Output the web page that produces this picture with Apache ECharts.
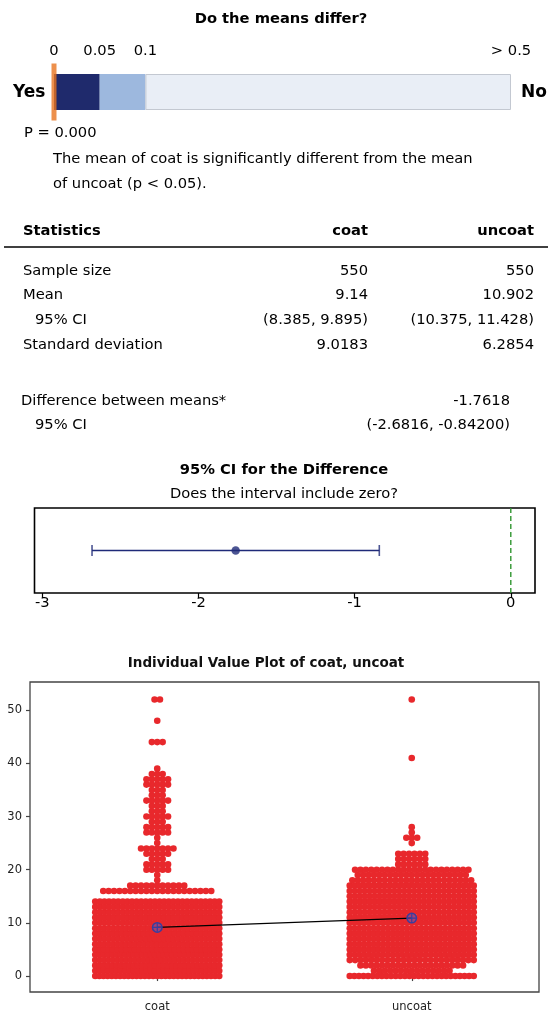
<!DOCTYPE html>
<html>
<head>
<meta charset="utf-8">
<title>2-Sample t-Test for the Mean: coat vs uncoat</title>
<script src="https://cdn.jsdelivr.net/npm/echarts@6/dist/echarts.min.js"></script>
<style>
  html, body { margin: 0; padding: 0; background: #fff; }
  #report { width: 548px; height: 1013px; }
</style>
</head>
<body>
<div id="report"></div>
<script>
// ---- summary statistics ----
const groups = ['coat', 'uncoat'];
const sampleSizes = [550, 550];
const means = [9.14, 10.902];
const meanCILower = [8.385, 10.375];
const meanCIUpper = [9.895, 11.428];
const stdDevs = [9.0183, 6.2854];
const diffMean = -1.7618;
const diffCI = [-2.6816, -0.842];
const diffCIDecimals = [4, 5];
const pValue = 0.000;

// ---- p-value scale ----
const pTicks = [0, 0.05, 0.1, 0.5];
const pTickLabels = ['0', '0.05', '0.1', '> 0.5'];
const pBands = [0.05, 0.05, 0.4];

// ---- CI plot axis ----
const ciTicks = [-3, -2, -1, 0];

// ---- individual values: value level and number of observations ----
const ivpTicks = [0, 10, 20, 30, 40, 50];
const coatLevels = [0, 1, 2, 3, 4, 5, 6, 7, 8, 9, 10, 11, 12, 13, 14, 16, 17, 18, 19, 20, 21, 22, 23, 24, 25, 26, 27, 28, 29, 30, 31, 32, 33, 34, 35, 36, 37, 38, 39, 44, 48, 52];
const coatCounts = [31, 30, 30, 29, 30, 29, 29, 28, 29, 29, 28, 28, 28, 28, 28, 21, 11, 1, 1, 5, 5, 3, 5, 7, 1, 1, 5, 5, 3, 5, 3, 3, 5, 3, 3, 5, 5, 3, 1, 3, 1, 2];
const uncoatLevels = [0, 1, 2, 3, 4, 5, 6, 7, 8, 9, 10, 11, 12, 13, 14, 15, 16, 17, 18, 19, 20, 21, 22, 23, 25, 26, 27, 28, 41, 52];
const uncoatCounts = [28, 15, 20, 24, 27, 27, 27, 27, 27, 27, 27, 26, 26, 26, 26, 26, 26, 26, 23, 21, 22, 6, 6, 6, 1, 3, 1, 1, 1, 1];

// ---- layout ----
const FONT = '"DejaVu Sans", Verdana, sans-serif';
const ivpGrid = { left: 30, right: 9, top: 682, bottom: 21 };
const ivpXRange = [0.5, 2.5];
const dotSize = 6.6;
const dotStep = 5.4;      // natural spacing between neighbouring dots (px)
const dotBand = 124;      // widest spread of dot centres in a row (px)

const chart = echarts.init(document.getElementById('report'), null, { renderer: 'canvas' });

// lay out the dots of each level side by side, centred on the group
function dotRows(levels, counts, groupPos) {
  const plotWidth = 548 - ivpGrid.left - ivpGrid.right;
  const pxPerUnit = plotWidth / (ivpXRange[1] - ivpXRange[0]);
  const pts = [];
  levels.forEach((v, k) => {
    const n = counts[k];
    const step = n > 1 ? Math.min(dotStep, dotBand / (n - 1)) : 0;
    for (let i = 0; i < n; i++) {
      const off = (i - (n - 1) / 2) * step;
      pts.push([groupPos + off / pxPerUnit, v]);
    }
  });
  return pts;
}
const coatDots = dotRows(coatLevels, coatCounts, 1);
const uncoatDots = dotRows(uncoatLevels, uncoatCounts, 2);

// ---- text blocks ----
function txt(text, x, y, opts) {
  opts = opts || {};
  const align = opts.align || 'left';
  return {
    type: 'text', x: x, y: y, silent: true,
    style: {
      text: text,
      font: (opts.bold ? 'bold ' : '') + (opts.size || 14.7) + 'px ' + FONT,
      fill: opts.color || '#000',
      textAlign: align, align: align,
      textVerticalAlign: 'middle', verticalAlign: 'middle'
    }
  };
}
const fmtCI = (lo, hi) => '(' + lo + ', ' + hi + ')';

const colRight = [368, 534];
const rowY = [271, 295.5, 320, 345];
const rowLabels = ['Sample size', 'Mean', '95% CI', 'Standard deviation'];
const rowIndent = [23, 23, 35, 23];
const rowValues = [
  sampleSizes.map(String),
  means.map(String),
  groups.map((g, i) => fmtCI(meanCILower[i], meanCIUpper[i])),
  stdDevs.map(String)
];

const graphics = [
  txt('Do the means differ?', 281, 19, { bold: true, align: 'center' }),
  txt('Yes', 13, 92.5, { bold: true, size: 17 }),
  txt('No', 521, 92.5, { bold: true, size: 17 }),
  txt('P = ' + pValue.toFixed(3), 24, 133),
  txt('The mean of coat is significantly different from the mean', 53, 159),
  txt('of uncoat (p < 0.05).', 53, 184),
  txt('Statistics', 23, 231, { bold: true }),
  txt(groups[0], colRight[0], 231, { bold: true, align: 'right' }),
  txt(groups[1], colRight[1], 231, { bold: true, align: 'right' }),
  { type: 'line', silent: true, shape: { x1: 4, y1: 247, x2: 548, y2: 247 }, style: { stroke: '#000', lineWidth: 1.5 } },
  txt('Difference between means*', 21, 401.5),
  txt(String(diffMean), 510, 401.5, { align: 'right' }),
  txt('95% CI', 35, 425.5),
  txt(fmtCI(diffCI[0].toFixed(diffCIDecimals[0]), diffCI[1].toFixed(diffCIDecimals[1])), 510, 425.5, { align: 'right' }),
  txt('95% CI for the Difference', 284, 470, { bold: true, align: 'center' }),
  txt('Does the interval include zero?', 284, 494, { align: 'center' }),
  txt('Individual Value Plot of coat, uncoat', 266, 663, { bold: true, size: 13.5, align: 'center', color: '#111' })
];
rowLabels.forEach((lab, r) => {
  graphics.push(txt(lab, rowIndent[r], rowY[r]));
  rowValues[r].forEach((val, c) => graphics.push(txt(val, colRight[c], rowY[r], { align: 'right' })));
});

const bandColors = ['#1f2a6c', '#9db8de', '#e9eef6'];
const navy = '#1f2a78';

const option = {
  animation: false,
  backgroundColor: '#fff',
  textStyle: { fontFamily: FONT },
  graphic: { elements: graphics },
  grid: [
    { left: 54, width: 457, top: 74, height: 36, containLabel: false, outerBoundsMode: 'none' },
    { left: 34.5, right: 13, top: 508, height: 85, containLabel: false, outerBoundsMode: 'none',
      show: true, borderColor: '#000', borderWidth: 1.6, backgroundColor: 'transparent' },
    { left: ivpGrid.left, right: ivpGrid.right, top: ivpGrid.top, bottom: ivpGrid.bottom, containLabel: false, outerBoundsMode: 'none',
      show: true, borderColor: '#444', borderWidth: 1.3, backgroundColor: 'transparent' }
  ],
  xAxis: [
    { gridIndex: 0, type: 'value', position: 'top', min: pTicks[0], max: pTicks[pTicks.length - 1],
      axisLine: { show: false }, axisTick: { show: false }, splitLine: { show: false },
      axisLabel: { customValues: pTicks, margin: 15, fontSize: 14.7, color: '#000', fontFamily: FONT,
        formatter: v => pTickLabels[pTicks.indexOf(v)] } },
    { gridIndex: 1, type: 'value', min: -3.05, max: 0.155,
      axisLine: { show: false }, splitLine: { show: false },
      axisTick: { customValues: ciTicks, length: 5, lineStyle: { color: '#000', width: 1.2 } },
      axisLabel: { customValues: ciTicks, margin: 3, fontSize: 14.7, color: '#000', fontFamily: FONT,
        showMinLabel: true, showMaxLabel: true } },
    { gridIndex: 2, type: 'value', min: ivpXRange[0], max: ivpXRange[1],
      axisLine: { show: false }, splitLine: { show: false },
      axisTick: { customValues: [1, 2], length: 5, lineStyle: { color: '#444', width: 1.2 } },
      axisLabel: { customValues: [1, 2], margin: 9, fontSize: 11.5, color: '#222', fontFamily: FONT,
        formatter: v => groups[Math.round(v) - 1] } }
  ],
  yAxis: [
    { gridIndex: 0, type: 'category', data: ['p'], show: false },
    { gridIndex: 1, type: 'value', min: 0, max: 1, show: false },
    { gridIndex: 2, type: 'value', min: -3, max: 55.3,
      axisLine: { show: false }, splitLine: { show: false },
      axisTick: { customValues: ivpTicks, length: 4, lineStyle: { color: '#444', width: 1.2 } },
      axisLabel: { customValues: ivpTicks, margin: 8, fontSize: 11.5, color: '#222', fontFamily: FONT } }
  ],
  series: [
    // p-value scale bands
    ...pBands.map((w, i) => ({
      type: 'bar', xAxisIndex: 0, yAxisIndex: 0, stack: 'pscale', barWidth: '100%',
      data: [w], silent: true,
      itemStyle: { color: bandColors[i], borderColor: i === 2 ? '#c3c8d1' : bandColors[i], borderWidth: i === 2 ? 1 : 0 }
    })),
    // p-value marker
    { type: 'scatter', xAxisIndex: 0, yAxisIndex: 0, clip: false, silent: true, z: 5,
      data: [[pValue, 0]], symbol: 'rect', symbolSize: [5, 57], itemStyle: { color: '#e8741f' } },

    // CI for the difference
    { type: 'line', xAxisIndex: 1, yAxisIndex: 1, silent: true, symbol: 'none',
      data: [[0, 0], [0, 1]], lineStyle: { color: '#2f962f', width: 1.4, type: [5, 3] } },
    { type: 'line', xAxisIndex: 1, yAxisIndex: 1, silent: true, symbol: 'none',
      data: [[diffCI[0], 0.5], [diffCI[1], 0.5]], lineStyle: { color: navy, width: 1.5 } },
    { type: 'scatter', xAxisIndex: 1, yAxisIndex: 1, silent: true, symbol: 'rect', symbolSize: [1.6, 11],
      data: [[diffCI[0], 0.5], [diffCI[1], 0.5]], itemStyle: { color: navy } },
    { type: 'scatter', xAxisIndex: 1, yAxisIndex: 1, silent: true, symbol: 'circle', symbolSize: 8.5,
      data: [[diffMean, 0.5]], itemStyle: { color: navy } },

    // individual values
    { type: 'scatter', xAxisIndex: 2, yAxisIndex: 2, silent: true, symbol: 'circle', symbolSize: dotSize,
      data: coatDots, itemStyle: { color: '#e8282c', opacity: 1 } },
    { type: 'scatter', xAxisIndex: 2, yAxisIndex: 2, silent: true, symbol: 'circle', symbolSize: dotSize,
      data: uncoatDots, itemStyle: { color: '#e8282c', opacity: 1 } },
    // connected means
    { type: 'line', xAxisIndex: 2, yAxisIndex: 2, silent: true, symbol: 'none', z: 4,
      data: means.map((m, i) => [i + 1, m]), lineStyle: { color: '#000', width: 1.2 } },
    { type: 'scatter', xAxisIndex: 2, yAxisIndex: 2, silent: true, z: 5, symbol: 'circle', symbolSize: 9.5,
      data: means.map((m, i) => [i + 1, m]),
      itemStyle: { color: 'rgba(90,90,200,0.45)', borderColor: '#3a3e9e', borderWidth: 1.5, opacity: 1 } },
    { type: 'scatter', xAxisIndex: 2, yAxisIndex: 2, silent: true, z: 6,
      symbol: 'path://M0,5 L10,5 M5,0 L5,10', symbolSize: 8.5,
      data: means.map((m, i) => [i + 1, m]),
      itemStyle: { color: 'none', borderColor: '#3a3e9e', borderWidth: 1.2, opacity: 1 } }
  ]
};
chart.setOption(option);
</script>
</body>
</html>
